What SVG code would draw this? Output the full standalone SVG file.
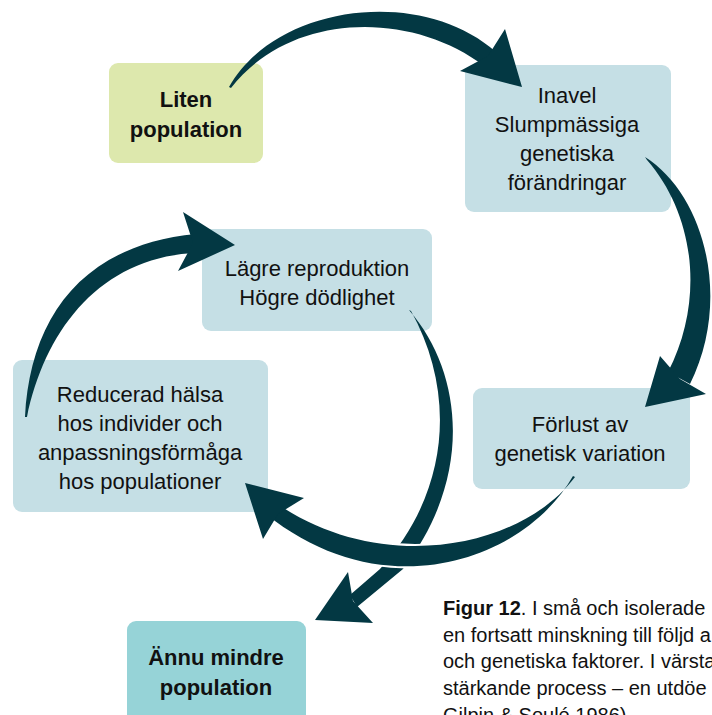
<svg xmlns="http://www.w3.org/2000/svg" width="712" height="715" viewBox="0 0 712 715">
<defs>
<style>
.box{stroke:none}
.blue{fill:#c5dfe5}
.green{fill:#dde8ad}
.teal{fill:#96d3d7}
.t{font-family:"Liberation Sans",Arial,sans-serif;font-size:22px;fill:#111;text-anchor:middle}
.b{font-weight:bold}
.cap{font-family:"Liberation Sans",Arial,sans-serif;font-size:20px;fill:#111}
.arr{fill:#033843}
</style>
<clipPath id="cross"><rect x="375" y="530" width="60" height="50"/></clipPath>
</defs>
<rect width="712" height="715" fill="#fff"/>

<g id="liten">
<rect class="box green" x="109" y="63" width="154" height="100" rx="9"/>
<text class="t b" x="186" y="107">Liten</text>
<text class="t b" x="186" y="137">population</text>
</g>
<g id="inavel">
<rect class="box blue" x="465" y="65" width="206" height="147" rx="9"/>
<text class="t" x="567" y="103">Inavel</text>
<text class="t" x="567" y="132">Slumpmässiga</text>
<text class="t" x="567" y="161">genetiska</text>
<text class="t" x="567" y="190">förändringar</text>
</g>
<g id="lagre">
<rect class="box blue" x="202" y="229" width="230" height="102" rx="9"/>
<text class="t" x="317" y="276">Lägre reproduktion</text>
<text class="t" x="317" y="305">Högre dödlighet</text>
</g>
<g id="reducerad">
<rect class="box blue" x="13" y="360" width="255" height="152" rx="9"/>
<text class="t" x="140" y="402">Reducerad hälsa</text>
<text class="t" x="140" y="431">hos individer och</text>
<text class="t" x="140" y="460">anpassningsförmåga</text>
<text class="t" x="140" y="489">hos populationer</text>
</g>
<g id="forlust">
<rect class="box blue" x="473" y="388" width="217" height="101" rx="9"/>
<text class="t" x="580" y="432">Förlust av</text>
<text class="t" x="580" y="461">genetisk variation</text>
</g>
<g id="annu">
<rect class="box teal" x="127" y="621" width="179" height="110" rx="9"/>
<text class="t b" x="216" y="665">Ännu mindre</text>
<text class="t b" x="216" y="695">population</text>
</g>

<g id="connectors">
<!-- Liten -> Inavel -->
<g class="arr">
<path d="M229,87 C275,5 420,-15 496,52 L484,66 C410,10 290,12 231,88 Z"/>
<polygon points="522,87 505,29 488,56 460,71"/>
</g>
<!-- Inavel -> Förlust -->
<g class="arr">
<path d="M645,157 C705,195 732,300 690,384 L668,372 C705,300 695,215 647,160 Z"/>
<polygon points="645,407 660,356 680,379 706,394"/>
</g>
<!-- Lägre -> Ännu mindre -->
<g class="arr">
<path d="M409,310 C465,375 472,480 403,569 L357,607 L350,595 L380,569 C452,490 455,390 411,311 Z"/>
<polygon points="315,620 348,572 353,601 373,623"/>
</g>
<!-- Förlust -> Reducerad -->
<g clip-path="url(#cross)">
<path d="M573,476 C525,560 385,610 266,514 L276,503 C380,575 520,550 575,477 Z" fill="#fff" stroke="#fff" stroke-width="4"/>
</g>
<g class="arr">
<path d="M573,476 C525,560 385,610 266,514 L276,503 C380,575 520,550 575,477 Z"/>
<polygon points="245,483 304,498 278,514 263,539"/>
</g>
<!-- Reducerad -> Lägre -->
<g class="arr">
<path d="M25,417 C30,320 80,245 196,234 L194,253 C100,258 45,330 27,417 Z"/>
<polygon points="235,245 183,212 193,243 178,271"/>
</g>
</g>

<g id="caption">
<text class="cap" x="443" y="615"><tspan font-weight="bold">Figur 12</tspan>. I små och isolerade</text>
<text class="cap" x="443" y="642">en fortsatt minskning till följd a</text>
<text class="cap" x="443" y="668">och genetiska faktorer. I värsta</text>
<text class="cap" x="443" y="695">stärkande process – en utdöe</text>
<text class="cap" x="443" y="722">Gilpin &amp; Soulé 1986).</text>
</g>
</svg>
